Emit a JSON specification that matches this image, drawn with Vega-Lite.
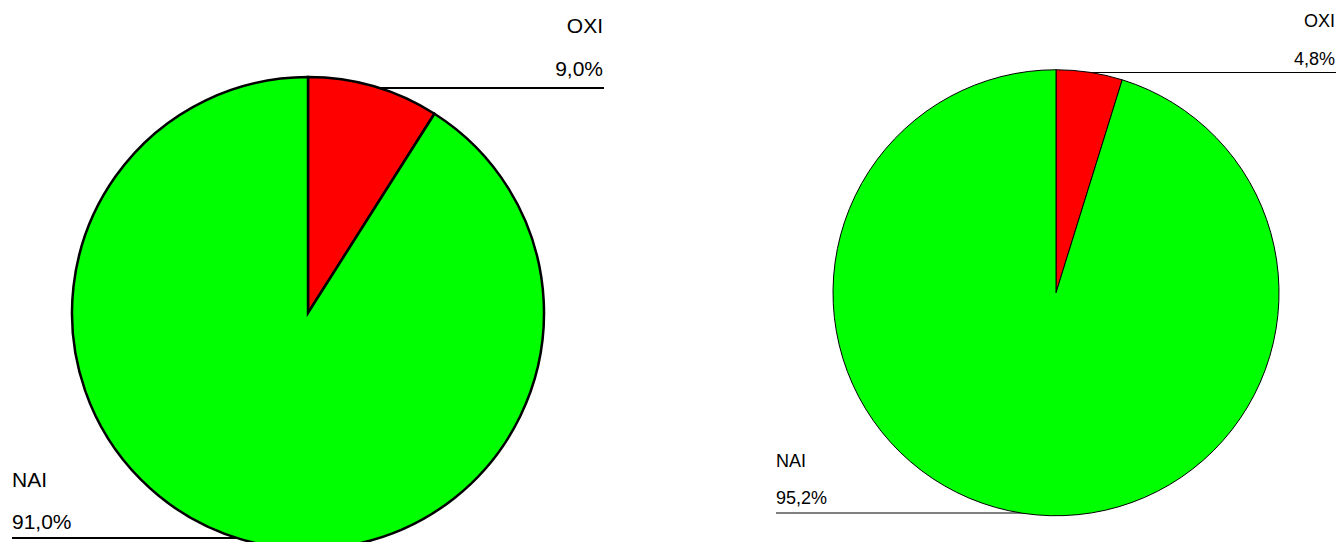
{
  "$schema": "https://vega.github.io/schema/vega-lite/v6.json",
  "padding": 0,
  "spacing": 156,
  "background": "white",
  "config": {"view": {"stroke": null}, "axis": {"disable": true}, "text": {"font": "Liberation Sans", "color": "black"}},
  "datasets": {
    "left": [
      {"category": "OXI", "value": 9.0, "label": "9,0%"},
      {"category": "NAI", "value": 91.0, "label": "91,0%"}
    ],
    "right": [
      {"category": "OXI", "value": 4.8, "label": "4,8%"},
      {"category": "NAI", "value": 95.2, "label": "95,2%"}
    ]
  },
  "hconcat": [
    {
      "width": 616,
      "height": 542,
      "data": {"name": "left"},
      "layer": [
        {
          "mark": {"type": "rule", "stroke": "black", "strokeWidth": 2},
          "encoding": {
            "x": {"field": "category", "type": "nominal", "scale": {"type": "point", "domain": ["NAI", "center", "OXI"], "range": [12, 604], "padding": 0}, "axis": null},
            "x2": {"datum": "center"},
            "y": {"field": "category", "type": "nominal", "scale": {"type": "point", "domain": ["OXI", "center", "NAI"], "range": [88, 538], "padding": 0}, "axis": null}
          }
        },
        {
          "mark": {"type": "arc", "outerRadius": 236, "stroke": "black", "strokeWidth": 2.5},
          "encoding": {
            "theta": {"field": "value", "type": "quantitative", "stack": true},
            "color": {"field": "category", "type": "nominal", "scale": {"domain": ["OXI", "NAI"], "range": ["#ff0000", "#00ff00"]}, "legend": null},
            "order": {"field": "category", "sort": "descending"},
            "x": {"datum": "center", "type": "nominal", "scale": {"type": "point", "domain": ["NAI", "center", "OXI"], "range": [12, 604], "padding": 0}, "axis": null},
            "y": {"datum": "center", "type": "nominal", "scale": {"type": "point", "domain": ["OXI", "center", "NAI"], "range": [88, 538], "padding": 0}, "axis": null}
          }
        },
        {
          "transform": [{"filter": "datum.category === 'OXI'"}],
          "mark": {"type": "text", "align": "right", "baseline": "alphabetic", "dy": -12, "dx": -1, "fontSize": 21},
          "encoding": {
            "x": {"field": "category", "type": "nominal", "scale": {"type": "point", "domain": ["NAI", "center", "OXI"], "range": [12, 604], "padding": 0}, "axis": null},
            "y": {"field": "category", "type": "nominal", "scale": {"type": "point", "domain": ["OXI", "center", "NAI"], "range": [88, 538], "padding": 0}, "axis": null},
            "text": {"field": "label"}
          }
        },
        {
          "transform": [{"filter": "datum.category === 'OXI'"}],
          "mark": {"type": "text", "align": "right", "baseline": "alphabetic", "dy": -55, "dx": -1, "fontSize": 21},
          "encoding": {
            "x": {"field": "category", "type": "nominal", "scale": {"type": "point", "domain": ["NAI", "center", "OXI"], "range": [12, 604], "padding": 0}, "axis": null},
            "y": {"field": "category", "type": "nominal", "scale": {"type": "point", "domain": ["OXI", "center", "NAI"], "range": [88, 538], "padding": 0}, "axis": null},
            "text": {"field": "category"}
          }
        },
        {
          "transform": [{"filter": "datum.category === 'NAI'"}],
          "mark": {"type": "text", "align": "left", "baseline": "alphabetic", "dy": -9, "fontSize": 21},
          "encoding": {
            "x": {"field": "category", "type": "nominal", "scale": {"type": "point", "domain": ["NAI", "center", "OXI"], "range": [12, 604], "padding": 0}, "axis": null},
            "y": {"field": "category", "type": "nominal", "scale": {"type": "point", "domain": ["OXI", "center", "NAI"], "range": [88, 538], "padding": 0}, "axis": null},
            "text": {"field": "label"}
          }
        },
        {
          "transform": [{"filter": "datum.category === 'NAI'"}],
          "mark": {"type": "text", "align": "left", "baseline": "alphabetic", "dy": -51, "fontSize": 21},
          "encoding": {
            "x": {"field": "category", "type": "nominal", "scale": {"type": "point", "domain": ["NAI", "center", "OXI"], "range": [12, 604], "padding": 0}, "axis": null},
            "y": {"field": "category", "type": "nominal", "scale": {"type": "point", "domain": ["OXI", "center", "NAI"], "range": [88, 538], "padding": 0}, "axis": null},
            "text": {"field": "category"}
          }
        }
      ]
    },
    {
      "width": 568,
      "height": 542,
      "data": {"name": "right"},
      "layer": [
        {
          "mark": {"type": "rule", "stroke": "black", "strokeWidth": 1},
          "encoding": {
            "x": {"field": "category", "type": "nominal", "scale": {"type": "point", "domain": ["NAI", "center", "OXI"], "range": [4, 564], "padding": 0}, "axis": null},
            "x2": {"datum": "center"},
            "y": {"field": "category", "type": "nominal", "scale": {"type": "point", "domain": ["OXI", "center", "NAI"], "range": [72.5, 513], "padding": 0}, "axis": null}
          }
        },
        {
          "mark": {"type": "arc", "outerRadius": 223, "stroke": "black", "strokeWidth": 1},
          "encoding": {
            "theta": {"field": "value", "type": "quantitative", "stack": true},
            "color": {"field": "category", "type": "nominal", "scale": {"domain": ["OXI", "NAI"], "range": ["#ff0000", "#00ff00"]}, "legend": null},
            "order": {"field": "category", "sort": "descending"},
            "x": {"datum": "center", "type": "nominal", "scale": {"type": "point", "domain": ["NAI", "center", "OXI"], "range": [4, 564], "padding": 0}, "axis": null},
            "y": {"datum": "center", "type": "nominal", "scale": {"type": "point", "domain": ["OXI", "center", "NAI"], "range": [72.5, 513], "padding": 0}, "axis": null}
          }
        },
        {
          "transform": [{"filter": "datum.category === 'OXI'"}],
          "mark": {"type": "text", "align": "right", "baseline": "alphabetic", "dy": -8, "dx": -1, "fontSize": 18},
          "encoding": {
            "x": {"field": "category", "type": "nominal", "scale": {"type": "point", "domain": ["NAI", "center", "OXI"], "range": [4, 564], "padding": 0}, "axis": null},
            "y": {"field": "category", "type": "nominal", "scale": {"type": "point", "domain": ["OXI", "center", "NAI"], "range": [72.5, 513], "padding": 0}, "axis": null},
            "text": {"field": "label"}
          }
        },
        {
          "transform": [{"filter": "datum.category === 'OXI'"}],
          "mark": {"type": "text", "align": "right", "baseline": "alphabetic", "dy": -46, "dx": -1, "fontSize": 18},
          "encoding": {
            "x": {"field": "category", "type": "nominal", "scale": {"type": "point", "domain": ["NAI", "center", "OXI"], "range": [4, 564], "padding": 0}, "axis": null},
            "y": {"field": "category", "type": "nominal", "scale": {"type": "point", "domain": ["OXI", "center", "NAI"], "range": [72.5, 513], "padding": 0}, "axis": null},
            "text": {"field": "category"}
          }
        },
        {
          "transform": [{"filter": "datum.category === 'NAI'"}],
          "mark": {"type": "text", "align": "left", "baseline": "alphabetic", "dy": -9, "fontSize": 18},
          "encoding": {
            "x": {"field": "category", "type": "nominal", "scale": {"type": "point", "domain": ["NAI", "center", "OXI"], "range": [4, 564], "padding": 0}, "axis": null},
            "y": {"field": "category", "type": "nominal", "scale": {"type": "point", "domain": ["OXI", "center", "NAI"], "range": [72.5, 513], "padding": 0}, "axis": null},
            "text": {"field": "label"}
          }
        },
        {
          "transform": [{"filter": "datum.category === 'NAI'"}],
          "mark": {"type": "text", "align": "left", "baseline": "alphabetic", "dy": -46, "fontSize": 18},
          "encoding": {
            "x": {"field": "category", "type": "nominal", "scale": {"type": "point", "domain": ["NAI", "center", "OXI"], "range": [4, 564], "padding": 0}, "axis": null},
            "y": {"field": "category", "type": "nominal", "scale": {"type": "point", "domain": ["OXI", "center", "NAI"], "range": [72.5, 513], "padding": 0}, "axis": null},
            "text": {"field": "category"}
          }
        }
      ]
    }
  ]
}
